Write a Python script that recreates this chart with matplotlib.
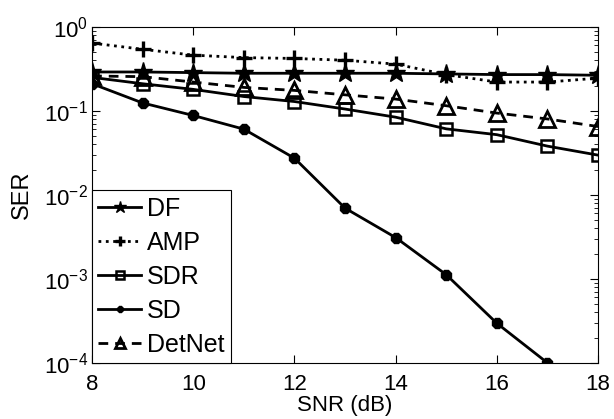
import matplotlib
matplotlib.use("Agg")
import matplotlib.pyplot as plt
import numpy as np
from matplotlib.ticker import LogLocator, FixedLocator, NullFormatter

snr = [8, 9, 10, 11, 12, 13, 14, 15, 16, 17, 18]
df_ser = [0.29, 0.29, 0.285, 0.28, 0.28, 0.28, 0.28, 0.275, 0.27, 0.27, 0.265]
amp_ser = [0.64, 0.54, 0.46, 0.43, 0.42, 0.40, 0.36, 0.27, 0.22, 0.22, 0.245]
sdr_ser = [0.25, 0.21, 0.18, 0.148, 0.129, 0.105, 0.084, 0.061, 0.052, 0.038, 0.0297]
sd_snr = [8, 9, 10, 11, 12, 13, 14, 15, 16, 17]
sd_ser = [0.21, 0.124, 0.088, 0.0605, 0.0273, 0.00694, 0.0031, 0.00112, 0.000296, 0.0001]
detnet_ser = [0.26, 0.255, 0.22, 0.19, 0.175, 0.155, 0.138, 0.115, 0.094, 0.080, 0.065]

plt.rcParams['font.family'] = ['Liberation Sans', 'DejaVu Sans']
plt.rcParams['mathtext.fontset'] = 'custom'
plt.rcParams['mathtext.rm'] = 'Liberation Sans'
plt.rcParams['mathtext.it'] = 'Liberation Sans'
plt.rcParams['mathtext.default'] = 'regular'

fig = plt.figure(figsize=(6.14, 4.19), dpi=100)
ax = fig.add_axes([0.150, 0.134, 0.824, 0.802])

lw = 2.0
ax.plot(snr, df_ser, '-', color='k', lw=lw, marker='*', ms=14, mfc='k', mec='k', label='DF')
ax.plot(snr, amp_ser, ':', color='k', lw=lw, marker='+', ms=12, mew=2.4, label='AMP')
ax.plot(snr, sdr_ser, '-', color='k', lw=lw, marker='s', ms=8.5, mfc='none', mec='k', mew=1.8, label='SDR')
ax.plot(sd_snr, sd_ser, '-', color='k', lw=lw, marker='8', ms=8, mfc='k', mec='k', label='SD')
ax.plot(snr, detnet_ser, '--', color='k', lw=lw, marker='^', ms=11, mfc='none', mec='k', mew=2.0,
        dashes=(3.5, 2.5), label='DetNet')

ax.set_yscale('log')
ax.set_xlim(8, 18)
ax.set_ylim(1e-4, 1)
ax.xaxis.set_major_locator(FixedLocator([8, 10, 12, 14, 16, 18]))
ax.yaxis.set_major_locator(LogLocator(base=10, numticks=10))
ax.yaxis.set_minor_locator(LogLocator(base=10, subs=np.arange(2, 10), numticks=10))
ax.yaxis.set_minor_formatter(NullFormatter())

ax.tick_params(which='both', direction='in', top=True, right=True, labelsize=16)
ax.tick_params(axis='x', pad=8)
ax.tick_params(axis='y', pad=3)
ax.tick_params(which='major', length=6, width=0.8)
ax.tick_params(which='minor', length=3, width=0.6)
for s in ax.spines.values():
    s.set_linewidth(0.8)

ax.set_xlabel('SNR (dB)', fontsize=16, labelpad=0)
ax.set_ylabel('SER', fontsize=17, labelpad=8)

leg = ax.legend(loc='lower left', fontsize=18, handlelength=1.7, handletextpad=0.25,
                borderpad=0.25, labelspacing=0.4, borderaxespad=0.0, fancybox=False,
                framealpha=1, edgecolor='k', markerscale=0.65)
leg.get_frame().set_linewidth(0.8)

fig.savefig('out.png', dpi=100)
